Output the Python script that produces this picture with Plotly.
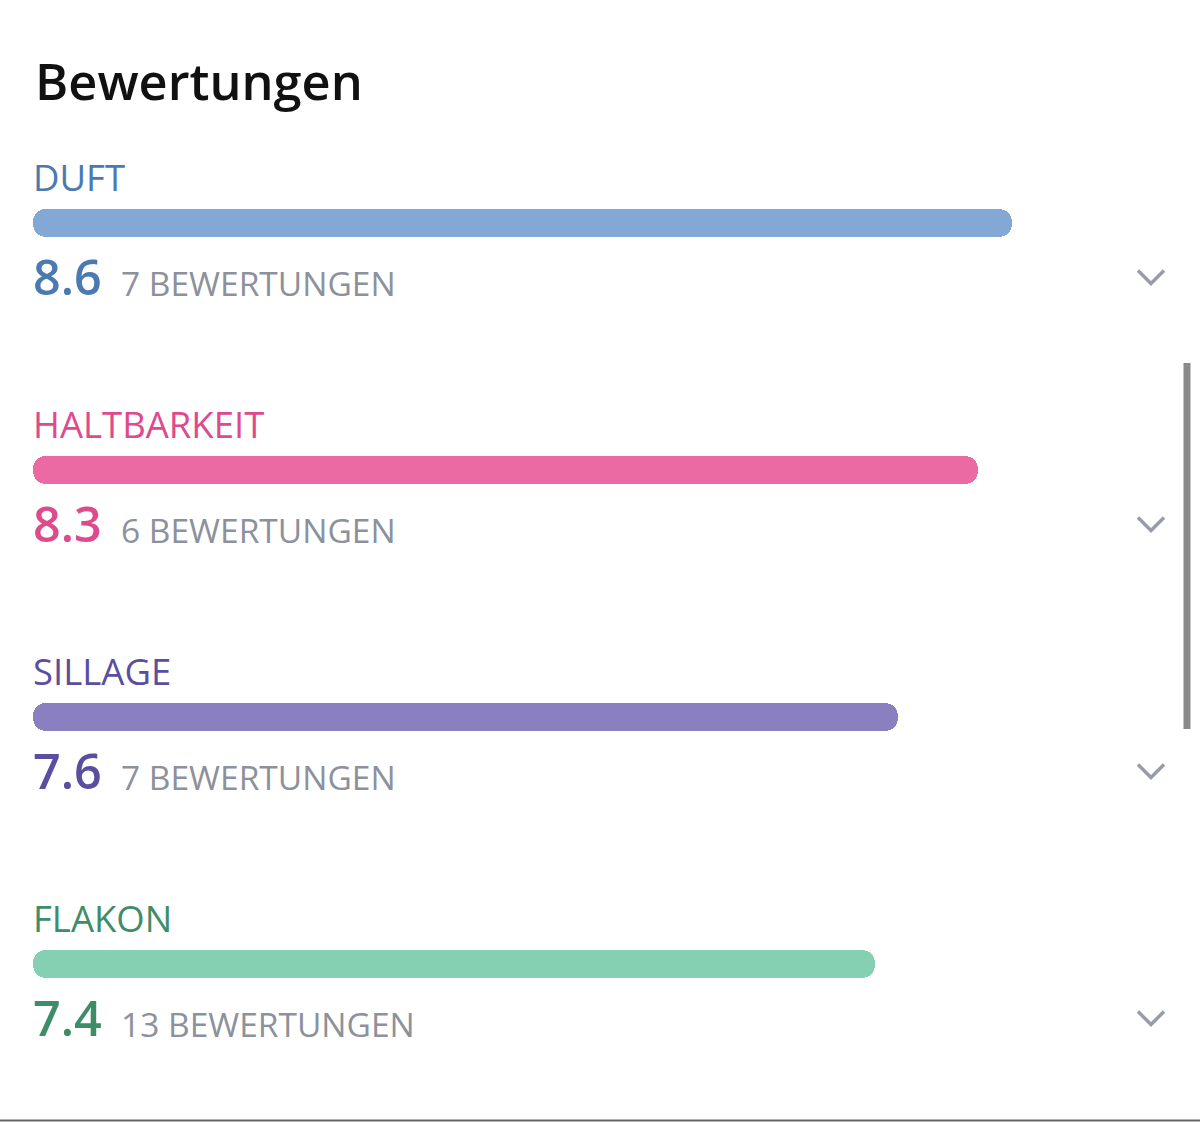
import plotly.graph_objects as go

# ---- data ----
categories = ["DUFT", "HALTBARKEIT", "SILLAGE", "FLAKON"]
scores = [8.6, 8.3, 7.6, 7.4]
review_counts = [7, 6, 7, 13]
count_suffix = "BEWERTUNGEN"
title_text = "Bewertungen"

# ---- styles ----
label_colors = ["#4B79B1", "#DE4A8C", "#5A4E9E", "#3F8D68"]
bar_colors = ["#84A8D5", "#EC6AA3", "#8A7FC0", "#85D0B3"]
count_color = "#8C919C"
chev_color = "#979DA8"
FONT = "Open Sans"

W, H = 1200, 1122
x0_px = 33          # px where score 0 sits
px_per_unit = 113.8
row0_px = 223       # centre of first bar
row_gap = 247
bar_h_px = 28

x_range = [-x0_px / px_per_unit, (W - x0_px) / px_per_unit]
y_range = [(H - row0_px) / row_gap, -row0_px / row_gap]

fig = go.Figure()
ypos = list(range(len(categories)))
fig.add_trace(go.Bar(
    x=scores, y=ypos, base=0, orientation="h",
    width=bar_h_px / row_gap,
    marker=dict(color=bar_colors, cornerradius=13, line=dict(width=0)),
    hoverinfo="skip", showlegend=False,
))

ann = []
shapes = []
for i, (cat, sc, n) in enumerate(zip(categories, scores, review_counts)):
    ann.append(dict(x=0, y=i, xref="x", yref="y", text=cat, showarrow=False,
                    xanchor="left", yanchor="middle", xshift=-2, yshift=46,
                    font=dict(family=FONT, size=36.5, color=label_colors[i])))
    ann.append(dict(x=0, y=i, xref="x", yref="y", text=f"{sc:.1f}", showarrow=False,
                    xanchor="left", yanchor="middle", xshift=-2, yshift=-53,
                    font=dict(family=FONT, size=48.5, color=label_colors[i], weight=600)))
    ann.append(dict(x=0, y=i, xref="x", yref="y", text=f"{n} {count_suffix}", showarrow=False,
                    xanchor="left", yanchor="middle", xshift=86, yshift=-60,
                    font=dict(family=FONT, size=33.5, color=count_color)))
    # chevron (decoration) in pixel -> paper coords
    cy = row0_px + row_gap * i + 54
    cx = 1151
    pts = [(cx - 13, cy - 6.5), (cx, cy + 6.5), (cx + 13, cy - 6.5)]
    path = "M " + " L ".join(f"{px / W:.5f},{1 - py / H:.5f}" for px, py in pts)
    shapes.append(dict(type="path", xref="paper", yref="paper", path=path,
                       line=dict(color=chev_color, width=3.5)))

ann.append(dict(x=33 / W, y=1 - 81 / H, xref="paper", yref="paper", text=title_text,
                showarrow=False, xanchor="left", yanchor="middle",
                font=dict(family=FONT, size=50.5, color="#111111", weight=600)))

# scrollbar
shapes.append(dict(type="line", xref="paper", yref="paper",
                   x0=1187 / W, x1=1187 / W, y0=1 - 363 / H, y1=1 - 729 / H,
                   line=dict(color="#8A8A8A", width=7)))
# bottom rule
shapes.append(dict(type="line", xref="paper", yref="paper",
                   x0=0, x1=1, y0=1 - 1120.5 / H, y1=1 - 1120.5 / H,
                   line=dict(color="#666666", width=2)))

fig.update_layout(
    width=W, height=H,
    margin=dict(l=0, r=0, t=0, b=0),
    paper_bgcolor="white", plot_bgcolor="white",
    xaxis=dict(range=x_range, visible=False, fixedrange=True),
    yaxis=dict(range=y_range, visible=False, fixedrange=True),
    annotations=ann, shapes=shapes,
    bargap=0,
)

fig.write_html("out.html")
